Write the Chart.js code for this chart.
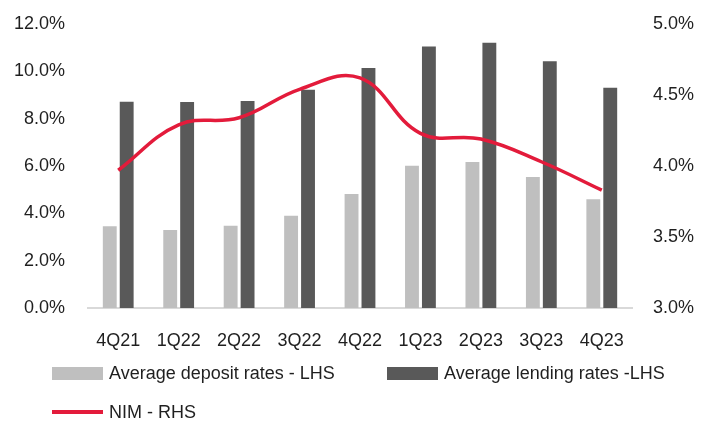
<!DOCTYPE html>
<html>
<head>
<meta charset="utf-8">
<script src="https://cdn.jsdelivr.net/npm/chart.js@4/dist/chart.umd.min.js"></script>
<style>
  html, body { margin: 0; padding: 0; background: #fff; }
  #wrap { position: relative; width: 712px; height: 424px; }
  #wrap canvas { position: absolute; left: 0; top: 0; }
  .legend { position: absolute; margin: 0; padding: 0; list-style: none;
    font-family: 'Liberation Sans', Arial, sans-serif;
    font-size: 18px; color: #1f1f1f; }
  .legend li { position: absolute; display: flex; align-items: center; white-space: nowrap; height: 24px; }
  .legend .swatch { display: inline-block; width: 51px; margin-right: 6px; }
</style>
</head>
<body>
<div id="wrap">
  <canvas id="rateChart" width="712" height="424"></canvas>
  <ul class="legend" id="chartLegend"></ul>
</div>
<script>
// Quarterly rates, % (bars on the left axis, NIM on the right axis)
const quarters = ['4Q21', '1Q22', '2Q22', '3Q22', '4Q22', '1Q23', '2Q23', '3Q23', '4Q23'];
const depositRates = [3.45, 3.30, 3.48, 3.90, 4.82, 6.01, 6.17, 5.53, 4.60];
const lendingRates = [8.72, 8.70, 8.75, 9.22, 10.14, 11.05, 11.21, 10.43, 9.31];
const nim = [3.97, 4.29, 4.34, 4.54, 4.62, 4.23, 4.19, 4.03, 3.83];

const FONT = "'Liberation Sans', Arial, sans-serif";
const TEXT = '#1f1f1f';

const series = [
  { label: 'Average deposit rates - LHS', color: '#BFBFBF', kind: 'box', left: 52, top: 361 },
  { label: 'Average lending rates -LHS', color: '#595959', kind: 'box', left: 387, top: 361 },
  { label: 'NIM - RHS', color: '#E31B3B', kind: 'line', left: 52, top: 400 }
];

// y axes: fixed width, and no extra top/bottom room for the tick labels
const fixYAxis = width => axis => {
  axis.width = width;
  axis.paddingTop = 0;
  axis.paddingBottom = 0;
};

const ctx = document.getElementById('rateChart').getContext('2d');
new Chart(ctx, {
  type: 'bar',
  data: {
    labels: quarters,
    datasets: [
      {
        type: 'line',
        label: series[2].label,
        data: nim,
        yAxisID: 'y1',
        borderColor: series[2].color,
        borderWidth: 3.5,
        tension: 0.4,
        pointRadius: 0,
        fill: false,
        order: 0
      },
      {
        label: series[0].label,
        data: depositRates,
        backgroundColor: series[0].color,
        yAxisID: 'y',
        categoryPercentage: 0.56,
        barPercentage: 0.82,
        order: 1
      },
      {
        label: series[1].label,
        data: lendingRates,
        backgroundColor: series[1].color,
        yAxisID: 'y',
        categoryPercentage: 0.56,
        barPercentage: 0.82,
        order: 1
      }
    ]
  },
  options: {
    responsive: false,
    animation: false,
    layout: { padding: { top: 24, left: 0, right: 0, bottom: 0 } },
    plugins: { legend: { display: false }, tooltip: { enabled: false } },
    scales: {
      x: {
        grid: { display: false, drawTicks: false, tickLength: 0 },
        border: { display: true, color: '#D9D9D9', width: 2 },
        ticks: { color: TEXT, font: { family: FONT, size: 18 }, padding: 22, maxRotation: 0 },
        afterFit: axis => { axis.height = 116; }
      },
      y: {
        position: 'left',
        min: 0,
        max: 12,
        grid: { display: false, drawTicks: false, tickLength: 0 },
        border: { display: false },
        ticks: {
          stepSize: 2,
          color: TEXT,
          font: { family: FONT, size: 18 },
          padding: 23,
          callback: v => v.toFixed(1) + '%'
        },
        afterFit: fixYAxis(88)
      },
      y1: {
        position: 'right',
        min: 3,
        max: 5,
        grid: { display: false, drawTicks: false, tickLength: 0 },
        border: { display: false },
        ticks: {
          stepSize: 0.5,
          color: TEXT,
          font: { family: FONT, size: 18 },
          padding: 21,
          callback: v => v.toFixed(1) + '%'
        },
        afterFit: fixYAxis(80)
      }
    }
  }
});

// legend below the chart, two entries on the first row and the line on the second
const legendEl = document.getElementById('chartLegend');
series.forEach(s => {
  const li = document.createElement('li');
  li.style.left = s.left + 'px';
  li.style.top = s.top + 'px';
  const h = s.kind === 'box' ? 13 : 3.5;
  li.innerHTML = `<span class="swatch" style="background:${s.color};height:${h}px"></span><span>${s.label}</span>`;
  legendEl.appendChild(li);
});
</script>
</body>
</html>
